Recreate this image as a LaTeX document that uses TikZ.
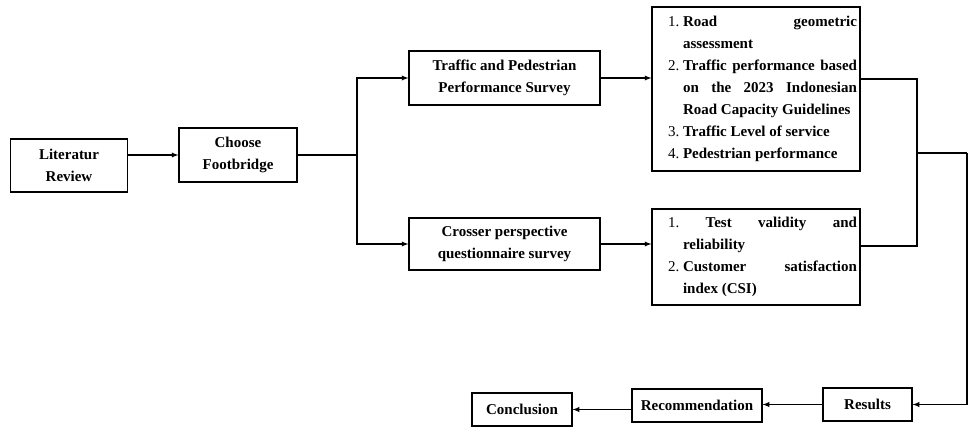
\documentclass[tikz,border=0pt]{standalone}
\usepackage{fontspec}
\setmainfont{Liberation Serif}

\tikzset{
  box/.style={draw, line width=1.1pt, font=\fontsize{15}{22}\selectfont\bfseries, align=center, inner sep=0pt},
  listbox/.style={draw, line width=1.1pt, font=\fontsize{15}{22}\selectfont\bfseries, text width=202pt, inner xsep=3pt, inner ysep=0pt, align=justify},
  line/.style={line width=1.3pt},
  arr/.style={line width=1.3pt,->,>=latex}
}
\newcommand{\itemno}[1]{\hangindent=15pt\hangafter=1\noindent\makebox[15pt][l]{\mdseries #1}}

\begin{document}
\begin{tikzpicture}[x=1pt,y=-1pt]
  \useasboundingbox (0,0) rectangle (968,427);
  % first column
  \node[box, minimum width=117pt, minimum height=53pt] (lit) at (69,165.5) {Literatur\\Review};
  \node[box, minimum width=118pt, minimum height=54pt] (cho) at (238,155) {Choose\\Footbridge};
  % surveys
  \node[box, minimum width=191pt, minimum height=54pt] (trf) at (504.5,78) {Traffic and Pedestrian\\Performance Survey};
  \node[box, minimum width=191pt, minimum height=52pt] (crs) at (504.5,244) {Crosser perspective\\questionnaire survey};
  % analyses
  \node[listbox, minimum height=164pt] (ana1) at (756,89) {\leftskip=13pt\parskip=0pt
    \itemno{1.}Road geometric\linebreak assessment\par
    \itemno{2.}Traffic performance based\linebreak on the 2023 Indonesian\linebreak Road Capacity Guidelines\par
    \itemno{3.}Traffic Level of service\par
    \itemno{4.}Pedestrian performance\par};
  \node[listbox, minimum height=96pt] (ana2) at (756,257) {\leftskip=13pt\parskip=0pt
    \hangindent=15pt\hangafter=1\noindent{\mdseries 1.}\ Test validity and\linebreak reliability\par
    \itemno{2.}Customer satisfaction\linebreak index (CSI)\par};
  % bottom row
  \node[box, minimum width=89pt, minimum height=33pt] (rsl) at (867.5,404.5) {Results};
  \node[box, minimum width=130pt, minimum height=33pt] (rec) at (697,405.5) {Recommendation};
  \node[box, minimum width=100pt, minimum height=33pt] (con) at (522,409.5) {Conclusion};

  \coordinate (split) at (357,155);
  \coordinate (j1) at (917,79);
  \coordinate (j2) at (917,246);
  \coordinate (edge) at (967,153);

  \draw[arr] (lit.east |- cho.west) -- (cho.west);
  \draw[line] (cho.east) -- (split);
  \draw[arr] (split) |- (trf.west);
  \draw[arr] (split) |- (crs.west);
  \draw[arr] (trf.east) -- (trf.east -| ana1.west);
  \draw[arr] (crs.east) -- (crs.east -| ana2.west);
  \draw[line] (j1 -| ana1.east) -- (j1) -- (j2) -- (j2 -| ana2.east);
  \draw[line] (j1 |- edge) -- (edge);
  \draw[arr] (edge) |- (rsl.east);
  \draw[arr] (rsl.west) -- (rsl.west -| rec.east);
  \draw[arr] (rec.west |- con.east) -- (con.east);
\end{tikzpicture}
\end{document}
